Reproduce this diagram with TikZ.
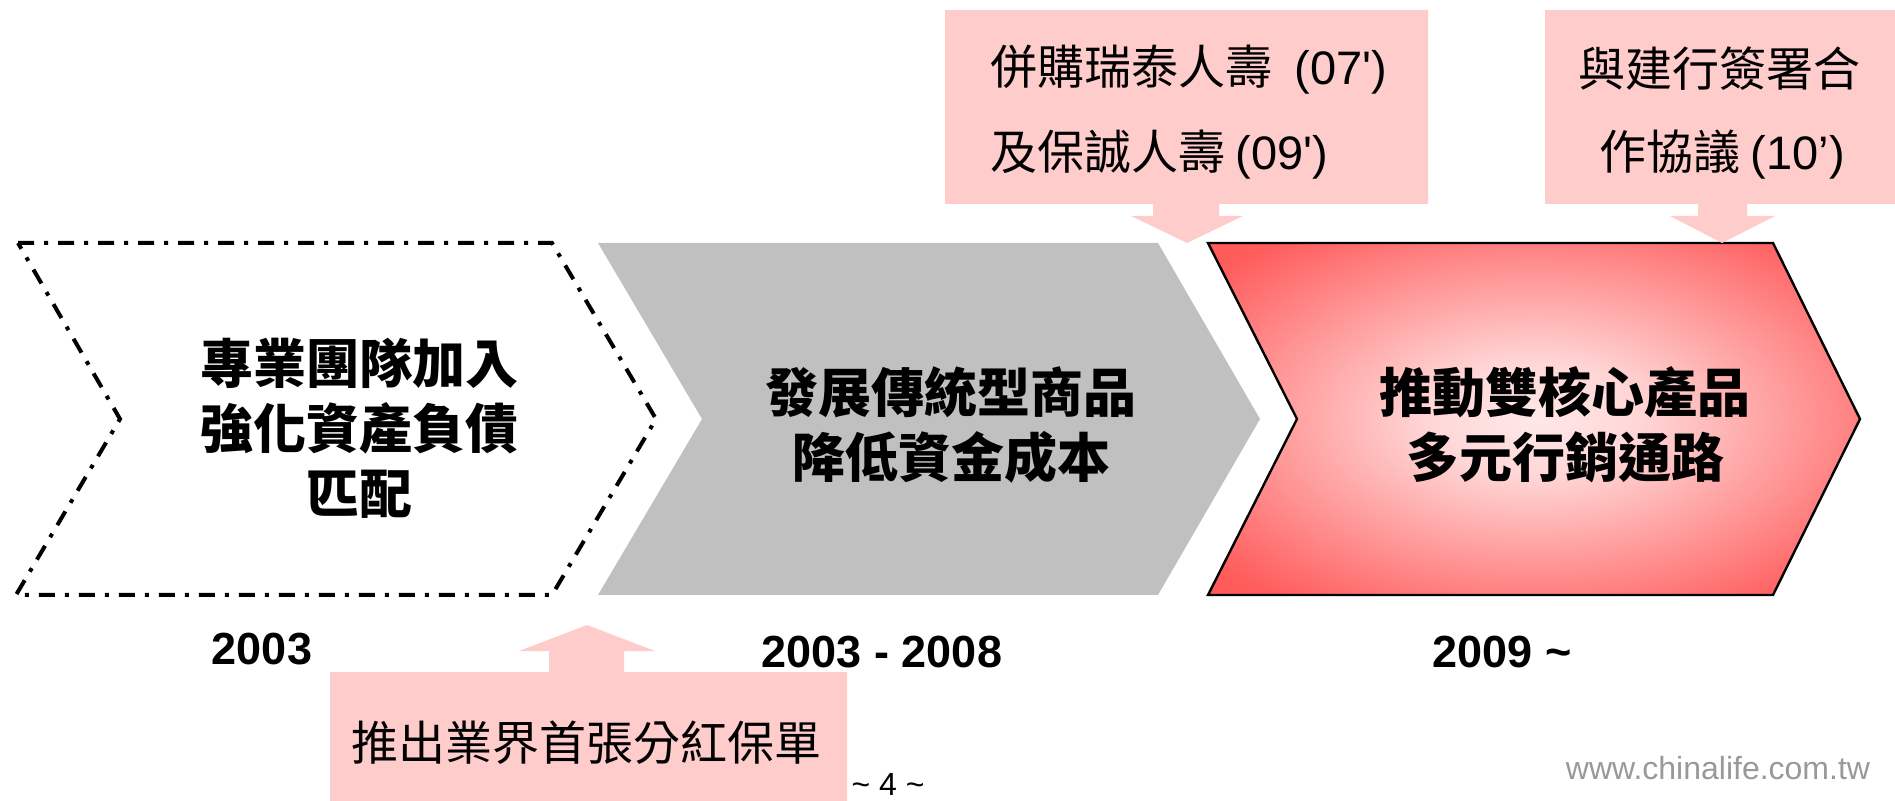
\documentclass[tikz,border=0pt]{standalone}
\usepackage{fontspec}
\setmainfont{Liberation Sans}
\newfontfamily\cjk{Noto Sans CJK TC}
\newfontfamily\arialplain{Liberation Sans}[Ligatures=TeXOff]
\definecolor{pinkbox}{HTML}{FFCCCC}
\definecolor{greychev}{HTML}{C0C0C0}
\pgfdeclareradialshading{redglow}{\pgfpoint{0bp}{0bp}}{rgb(0bp)=(1,0.91,0.91); rgb(8bp)=(1,0.84,0.84); rgb(32bp)=(1,0.36,0.36); rgb(50bp)=(1,0.33,0.33)}
\begin{document}
\begin{tikzpicture}[x=0.5pt,y=-0.5pt,
  chevtext/.style={font=\cjk\bfseries\fontsize{26.5pt}{32.5pt}\selectfont, align=center, inner sep=0pt},
  boxtext/.style={font=\cjk\fontsize{23.5pt}{28pt}\selectfont, inner sep=0pt},
  yeartext/.style={font=\bfseries\fontsize{22.5pt}{27pt}\selectfont, inner sep=0pt},
  dashchev/.style={draw=black, line width=2pt, dash pattern=on 8pt off 5pt on 2pt off 5pt},
  redchev/.style={draw=black, line width=1.2pt, shading=redglow},
  callout/.style={fill=pinkbox}]
\useasboundingbox (0,0) rectangle (1895,801);
% chevrons
\draw[dashchev] (18,243) -- (552,243) -- (656,419) -- (552,595) -- (16,595) -- (120,419) -- cycle;
\fill[greychev] (598,243) -- (1158,243) -- (1260,419) -- (1158,595) -- (598,595) -- (702,419) -- cycle;
\draw[redchev] (1208,243) -- (1773,243) -- (1860,419) -- (1773,595) -- (1208,595) -- (1297,419) -- cycle;
% callouts
\fill[callout] (945,10) -- (1428,10) -- (1428,204) -- (1219,204) -- (1219,216) -- (1243,216) -- (1187,243) -- (1131,216) -- (1153,216) -- (1153,204) -- (945,204) -- cycle;
\fill[callout] (1545,10) -- (1895,10) -- (1895,204) -- (1747,204) -- (1747,216) -- (1775,216) -- (1722,243) -- (1670,216) -- (1698,216) -- (1698,204) -- (1545,204) -- cycle;
\fill[callout] (330,801) -- (330,672) -- (549,672) -- (549,651) -- (519,651) -- (587,625) -- (655,651) -- (624,651) -- (624,672) -- (847,672) -- (847,801) -- cycle;
% chevron texts
\node[chevtext] (c1) at (359,428) {專業團隊加入\\強化資產負債\\匹配};
\node[chevtext] (c2) at (951,425) {發展傳統型商品\\降低資金成本};
\node[chevtext] (c3) at (1565,425) {推動雙核心產品\\多元行銷通路};
% callout texts
\node[boxtext, anchor=west] (b1a) at (990,70) {併購瑞泰人壽\hspace{6pt} {\arialplain(07')}};
\node[boxtext, anchor=west] (b1b) at (990,155) {及保誠人壽 {\arialplain(09')}};
\node[boxtext] (b2a) at (1719,69) {與建行簽署合};
\node[boxtext] (b2b) at (1722,155) {作協議 {\arialplain(10’)}};
\node[boxtext] (b3) at (586,743) {推出業界首張分紅保單};
% years
\node[yeartext] (y1) at (262,649) {2003};
\node[yeartext] (y2) at (882,652) {2003 - 2008};
\node[yeartext] (y3) at (1502,652) {2009 \char126};
% footer
\node[inner sep=0pt, font=\fontsize{16pt}{19pt}\selectfont] (pg) at (888,784) {\char126{} 4 \char126};
\node[inner sep=0pt, text=black!40, font=\fontsize{16pt}{19pt}\selectfont] (wm) at (1718,768) {www.chinalife.com.tw};
\end{tikzpicture}
\end{document}
